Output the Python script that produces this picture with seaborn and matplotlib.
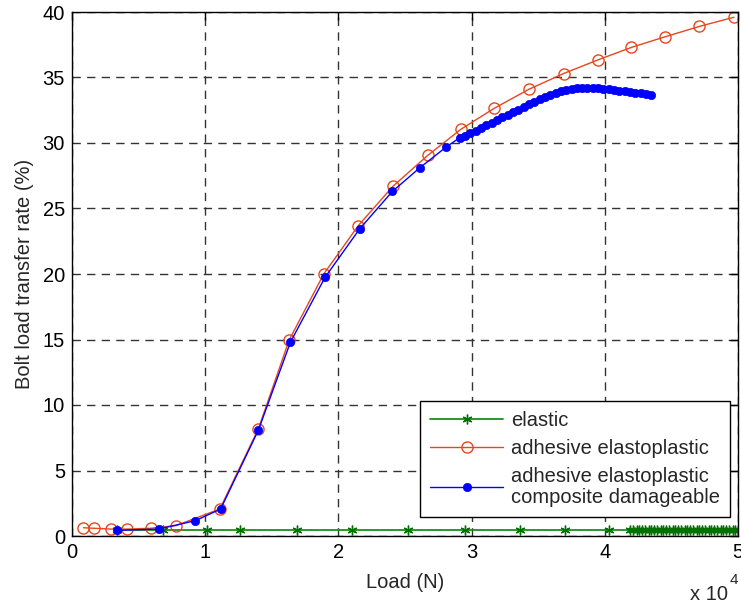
import numpy as np
import pandas as pd
import matplotlib
matplotlib.use("Agg")
import matplotlib.pyplot as plt
import seaborn as sns

# ---- data (load in units of 1e4 N, rate in %) ----
elastic_x = [0.34, 0.68, 1.01, 1.26, 1.69, 2.10, 2.52, 2.95, 3.36, 3.70, 4.03,
             4.19, 4.21, 4.24, 4.26, 4.28, 4.30, 4.33, 4.35, 4.37, 4.39, 4.42,
             4.44, 4.46, 4.48, 4.51, 4.53, 4.55, 4.57, 4.60, 4.62, 4.64, 4.66,
             4.69, 4.71, 4.73, 4.75, 4.78, 4.80, 4.82, 4.84, 4.87, 4.89, 4.91,
             4.93, 4.96, 4.98, 5.00]
elastic_y = [0.45] * len(elastic_x)

adh_x = [0.085, 0.165, 0.29, 0.415, 0.59, 0.78, 1.11, 1.40, 1.63, 1.89, 2.15,
         2.41, 2.67, 2.92, 3.17, 3.43, 3.69, 3.95, 4.20, 4.45, 4.71, 4.97]
adh_y = [0.63, 0.59, 0.53, 0.53, 0.59, 0.79, 2.06, 8.2, 14.95, 20.0, 23.7,
         26.7, 29.05, 31.05, 32.65, 34.1, 35.3, 36.35, 37.3, 38.1, 38.9, 39.6]

dmg_x = [0.335, 0.65, 0.926, 1.116, 1.40, 1.64, 1.90, 2.16, 2.405, 2.61, 2.81, 2.91,
         2.95, 2.99, 3.03, 3.07, 3.11, 3.15, 3.19, 3.23, 3.27, 3.31, 3.35, 3.39,
         3.43, 3.47, 3.51, 3.55, 3.59, 3.63, 3.67, 3.71, 3.75, 3.79, 3.83, 3.87,
         3.91, 3.95, 3.99, 4.03, 4.07, 4.11, 4.15, 4.19, 4.23, 4.27, 4.31, 4.35]
dmg_y = [0.43, 0.53, 1.17, 2.06, 8.1, 14.8, 19.75, 23.45, 26.3, 28.1, 29.7, 30.4,
         30.55, 30.75, 30.95, 31.15, 31.35, 31.55, 31.75, 31.95, 32.15, 32.35, 32.55, 32.75,
         32.95, 33.15, 33.35, 33.52, 33.68, 33.82, 33.95, 34.05, 34.12, 34.17, 34.2, 34.21,
         34.2, 34.18, 34.15, 34.1, 34.05, 34.0, 33.95, 33.9, 33.85, 33.8, 33.72, 33.65]

labels = ["elastic", "adhesive elastoplastic",
          "adhesive elastoplastic\ncomposite damageable"]
x_ticks = [0, 1, 2, 3, 4, 5]
y_ticks = [0, 5, 10, 15, 20, 25, 30, 35, 40]

sns.set_style("white")
plt.rcParams['font.family'] = ['Liberation Sans', 'DejaVu Sans']

fig = plt.figure(figsize=(7.41, 6.07), dpi=100)
ax = fig.add_axes([72/741, 1-536/607, 666/741, 524/607])

green = '#1E8C1E'
red = '#E8461E'
blue = '#0000FF'
FS = 14.5

sns.lineplot(x=elastic_x, y=elastic_y, ax=ax, color=green, linewidth=1.3,
             marker=(6, 2, 0), markersize=7, markeredgecolor='#007000', markerfacecolor='#007000',
             markeredgewidth=1.0, sort=False, estimator=None, label=labels[0])
sns.lineplot(x=adh_x, y=adh_y, ax=ax, color=red, linewidth=1.0,
             marker='o', markersize=8, markeredgecolor=red, markerfacecolor='none',
             markeredgewidth=1.0, sort=False, estimator=None, label=labels[1])
sns.lineplot(x=dmg_x, y=dmg_y, ax=ax, color=blue, linewidth=1.0,
             marker='o', markersize=6, markeredgecolor=blue, markerfacecolor=blue,
             markeredgewidth=0.5, sort=False, estimator=None, label=labels[2])

ax.set_xlim(0, 5)
ax.set_ylim(0, 40)
ax.set_xticks(x_ticks)
ax.set_yticks(y_ticks)
ax.set_xticklabels([str(t) for t in x_ticks])
ax.set_yticklabels([str(t) for t in y_ticks])
ax.tick_params(direction='in', length=6, width=1, labelsize=FS, colors='k',
               top=True, right=True, pad=5)
for s in ax.spines.values():
    s.set_visible(True)
    s.set_color('k')
    s.set_linewidth(1.0)

ax.grid(True, color='#333333', linestyle=(0, (6, 4.5)), linewidth=1.0)
ax.set_axisbelow(True)

ax.set_xlabel("Load (N)", fontsize=FS, labelpad=8)
ax.set_ylabel("Bolt load transfer rate (%)", fontsize=FS, labelpad=6)

leg = ax.legend(loc='lower right', bbox_to_anchor=(0.988, 0.036), fontsize=FS,
                frameon=True, fancybox=False, edgecolor='k', framealpha=1,
                handlelength=3.6, handletextpad=0.4, borderpad=0.5,
                labelspacing=0.45, borderaxespad=0)
leg.get_frame().set_linewidth(1.0)
for t in leg.get_texts():
    t.set_linespacing(1.15)

fig.text(690/741, 1-600/607, "x 10", fontsize=FS, ha='left', va='baseline')
fig.text(730/741, 1-584/607, "4", fontsize=11, ha='left', va='baseline')

fig.savefig("out.png", dpi=100)
